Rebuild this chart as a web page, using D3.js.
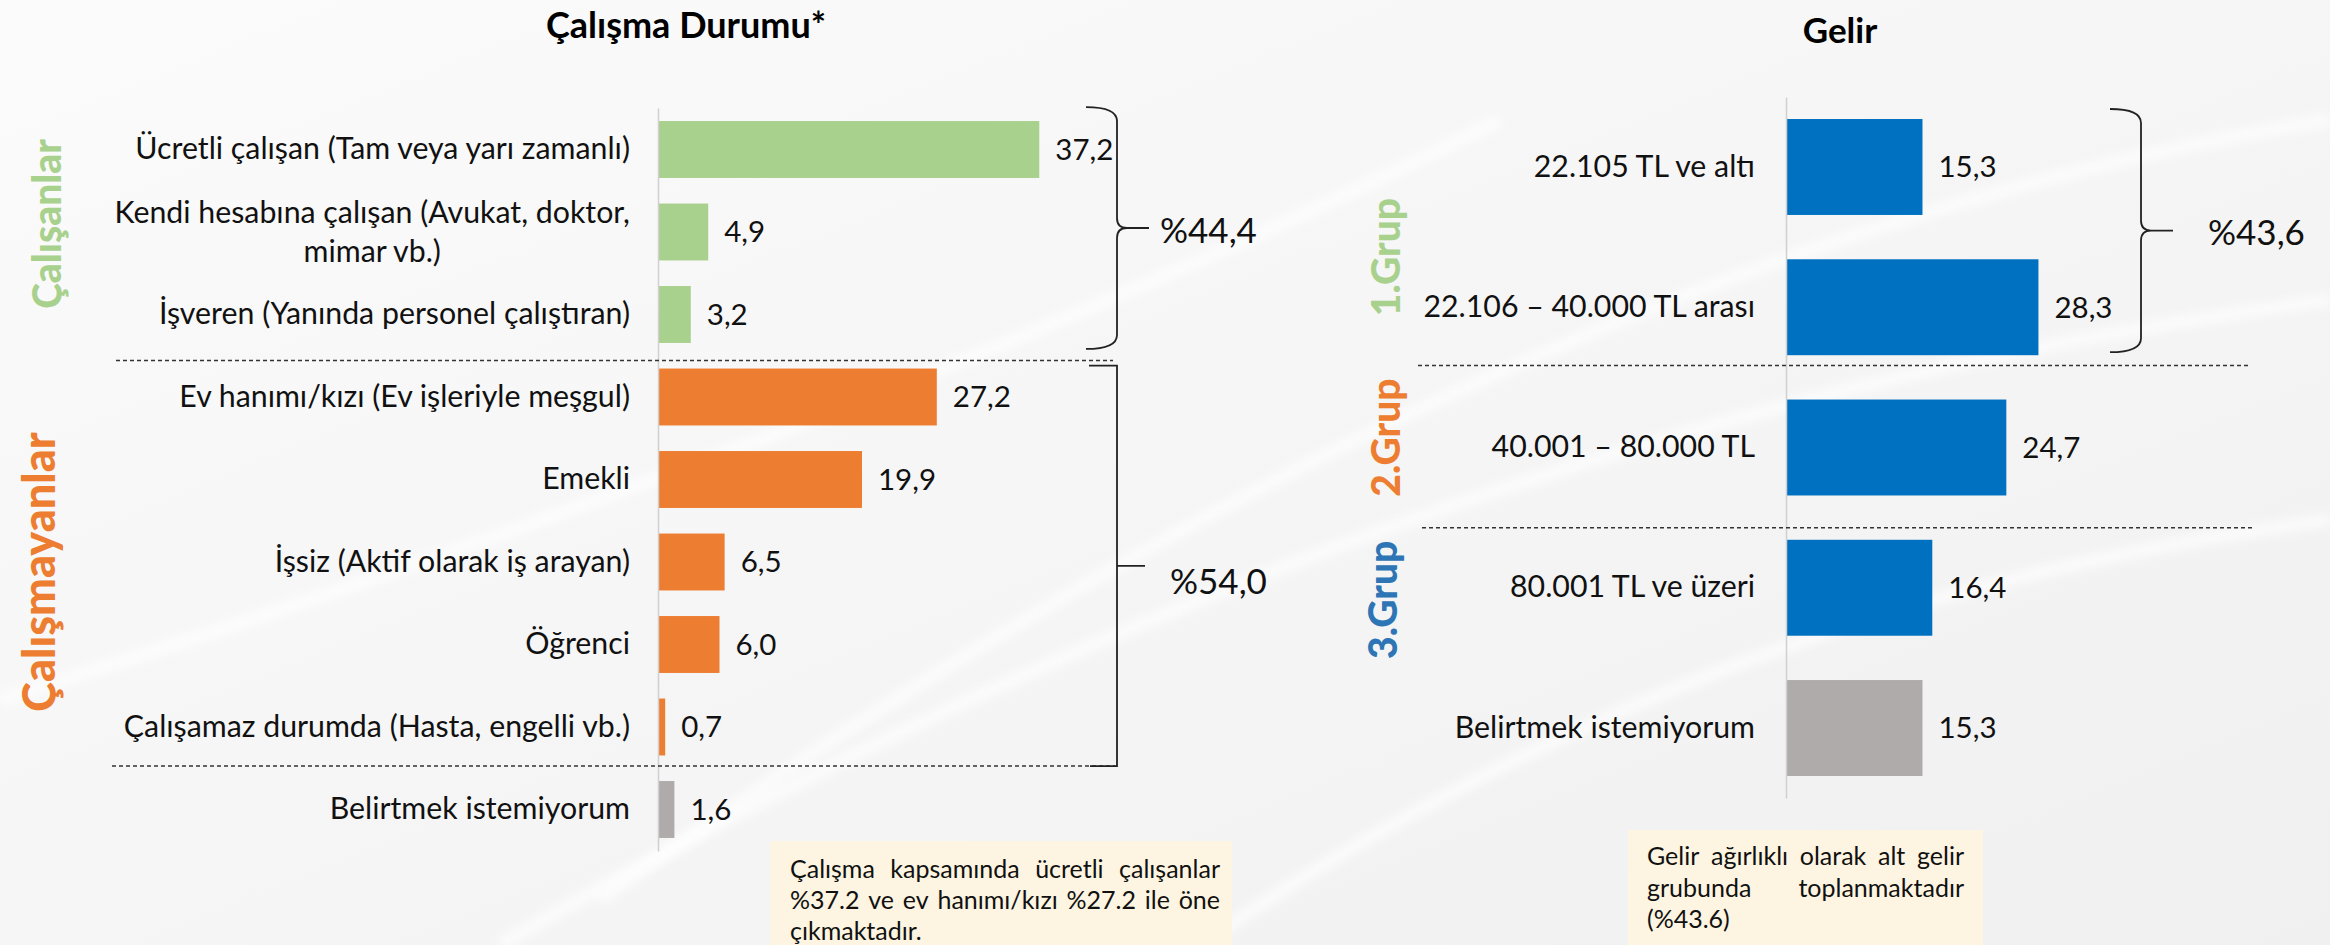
<!DOCTYPE html>
<html>
<head>
<meta charset="utf-8">
<script src="https://cdn.jsdelivr.net/npm/d3@7"></script>
<style>
  body { margin: 0; background: #f4f4f4; }
  svg { display: block; font-family: Lato, "Open Sans", sans-serif; }
  .val { font-size: 29.5px; fill: #111; }
  .pct { font-size: 35px; fill: #111; }
  .title { font-size: 36px; font-weight: bold; fill: #000; text-anchor: middle; }
  .side { font-weight: 900; text-anchor: middle; dominant-baseline: central; }
  .note { font-size: 25px; fill: #111; }
</style>
</head>
<body>
<div id="chart"></div>
<script>

// Çalışma Durumu (left chart)
var workLabels = [
  "Ücretli çalışan (Tam veya yarı zamanlı)",
  "Kendi hesabına çalışan (Avukat, doktor,\nmimar vb.)",
  "İşveren (Yanında personel çalıştıran)",
  "Ev hanımı/kızı (Ev işleriyle meşgul)",
  "Emekli",
  "İşsiz (Aktif olarak iş arayan)",
  "Öğrenci",
  "Çalışamaz durumda (Hasta, engelli vb.)",
  "Belirtmek istemiyorum"
];
var workValues = [37.2, 4.9, 3.2, 27.2, 19.9, 6.5, 6.0, 0.7, 1.6];
var workGroups = ["calisan", "calisan", "calisan", "calismayan", "calismayan", "calismayan", "calismayan", "calismayan", "none"];
var workTotals = ["%44,4", "%54,0"];
var workNote = ["Çalışma kapsamında ücretli çalışanlar", "%37.2 ve ev hanımı/kızı %27.2 ile öne", "çıkmaktadır."];

// Gelir (right chart)
var incomeLabels = ["22.105 TL ve altı", "22.106 – 40.000 TL arası", "40.001 – 80.000 TL", "80.001 TL ve üzeri", "Belirtmek istemiyorum"];
var incomeValues = [15.3, 28.3, 24.7, 16.4, 15.3];
var incomeGroups = ["g1", "g1", "g2", "g3", "none"];
var incomeTotals = ["%43,6"];
var incomeNote = ["Gelir ağırlıklı olarak alt gelir", "grubunda toplanmaktadır", "(%43.6)"];

var barColor = {calisan: "#a9d18e", calismayan: "#ed7d31", g1: "#0070c0", g2: "#0070c0", g3: "#0070c0", none: "#afabab"};

var W = 2330, H = 945;
var fmt = d3.formatLocale({decimal: ",", thousands: ".", grouping: [3], currency: ["", ""]}).format(".1f");

var svg = d3.select("#chart").append("svg")
    .attr("width", W)
    .attr("height", H);

// background
var defs = svg.append("defs");
var grad = defs.append("linearGradient")
    .attr("id", "bg").attr("x1", 0).attr("y1", 0).attr("x2", 1).attr("y2", 1);
grad.append("stop").attr("offset", "0%").attr("stop-color", "#fbfbfb");
grad.append("stop").attr("offset", "100%").attr("stop-color", "#f0f0f0");
defs.append("filter").attr("id", "soft")
  .append("feGaussianBlur").attr("stdDeviation", 4);
svg.append("rect").attr("width", W).attr("height", H).attr("fill", "url(#bg)");

// faint swooshes
[[600, 900, 1500, 250, 2330, 120], [500, 945, 1400, 420, 2330, 300], [1200, 945, 1700, 600, 2330, 520], [0, 700, 900, 420, 1500, 120]]
  .forEach(function(c) {
    svg.append("path")
        .attr("d", "M" + c[0] + "," + c[1] + " Q" + c[2] + "," + c[3] + " " + c[4] + "," + c[5])
        .attr("fill", "none")
        .attr("stroke", "#ffffff")
        .attr("stroke-width", 14)
        .attr("filter", "url(#soft)")
        .attr("opacity", 0.6);
  });

// set the ranges
var workX = d3.scaleLinear().domain([0, 40]).range([658, 1068]);
var workY = d3.scaleBand().domain(workLabels).range([108, 851]).paddingInner(0.31).paddingOuter(0.158);
var incomeX = d3.scaleLinear().domain([0, 30]).range([1786, 2053.6]);
var incomeY = d3.scaleBand().domain(incomeLabels).range([97, 798]).paddingInner(0.316).paddingOuter(0.157);

function drawChart(labels, values, groups, x, y, pad) {
  var g = svg.append("g");

  // bars
  g.selectAll(".bar")
    .data(labels)
    .enter().append("rect")
      .attr("x", x(0))
      .attr("y", function(d) { return y(d); })
      .attr("width", function(d, i) { return x(values[i]) - x(0); })
      .attr("height", y.bandwidth())
      .attr("fill", function(d, i) { return barColor[groups[i]]; });

  // category axis
  var ax = g.append("g")
      .attr("transform", "translate(" + x(0) + ",0)")
      .call(d3.axisLeft(y).tickSize(0).tickSizeOuter(0).tickPadding(pad));
  ax.attr("font-family", null).attr("font-size", 30.3);
  ax.select(".domain").attr("stroke", "#d0d0d0").attr("stroke-width", 1.5);
  ax.selectAll(".tick text")
      .attr("fill", "#111")
      .each(function(d) {
        var parts = d.split("\n");
        if (parts.length < 2) return;
        var t = d3.select(this).text(parts[0]);
        var w = this.getComputedTextLength();
        t.text(null).attr("text-anchor", "middle").attr("dy", null);
        parts.forEach(function(p, k) {
          t.append("tspan")
              .attr("x", -pad - w / 2)
              .attr("dy", k === 0 ? "-0.3em" : "1.3em")
              .text(p);
        });
      });

  // value labels
  g.selectAll(".val")
    .data(labels)
    .enter().append("text")
      .attr("class", "val")
      .attr("x", function(d, i) { return x(values[i]) + 16; })
      .attr("y", function(d) { return y(d) + y.bandwidth() / 2; })
      .attr("dy", "0.35em")
      .text(function(d, i) { return fmt(values[i]); });
}

drawChart(workLabels, workValues, workGroups, workX, workY, 28);
drawChart(incomeLabels, incomeValues, incomeGroups, incomeX, incomeY, 31);

// titles
svg.append("text").attr("class", "title").attr("x", 686).attr("y", 38).text("Çalışma Durumu*");
svg.append("text").attr("class", "title").attr("x", 1840).attr("y", 43).style("font-size", "35px").text("Gelir");

// dashed separators
function dashed(x0, x1, y) {
  svg.append("line")
      .attr("x1", x0).attr("x2", x1).attr("y1", y).attr("y2", y)
      .attr("stroke", "#333")
      .attr("stroke-width", 1.5)
      .attr("stroke-dasharray", "4,3");
}
var bw = workY.bandwidth(), ibw = incomeY.bandwidth();
dashed(116, 1113, workY(workLabels[3]) - 8);
dashed(112, 1115, workY(workLabels[8]) - 15);
dashed(1418, 2249, incomeY(incomeLabels[2]) - 34);
dashed(1422, 2253, incomeY(incomeLabels[3]) - 12);

// curly brace
function brace(x0, x1, y0, y1, xt) {
  var ym = (y0 + y1) / 2;
  svg.append("path")
      .attr("d", "M" + x0 + "," + y0 + " Q" + x1 + "," + y0 + " " + x1 + "," + (y0 + 14) +
                 " L" + x1 + "," + (ym - 10) + " Q" + x1 + "," + ym + " " + (x1 + 10) + "," + ym +
                 " Q" + x1 + "," + ym + " " + x1 + "," + (ym + 10) +
                 " L" + x1 + "," + (y1 - 14) + " Q" + x1 + "," + y1 + " " + x0 + "," + y1 +
                 " M" + (x1 + 8) + "," + ym + " L" + xt + "," + ym)
      .attr("fill", "none")
      .attr("stroke", "#222")
      .attr("stroke-width", 1.8);
  return ym;
}

var m1 = brace(1086, 1117, workY(workLabels[0]) - 14, workY(workLabels[2]) + bw + 6, 1149);
svg.append("text").attr("class", "pct").attr("x", 1160).attr("y", m1 + 3).attr("dy", "0.35em").text(workTotals[0]);

// square bracket for non-working
var sb0 = workY(workLabels[3]) - 3, sb1 = workY(workLabels[8]) - 15, sbm = (sb0 + sb1) / 2;
svg.append("path")
    .attr("d", "M1089," + sb0 + " H1117 V" + sb1 + " H1090 M1117," + sbm + " H1145")
    .attr("fill", "none")
    .attr("stroke", "#222")
    .attr("stroke-width", 1.8);
svg.append("text").attr("class", "pct").attr("x", 1170).attr("y", sbm + 16).attr("dy", "0.35em").text(workTotals[1]);

var m2 = brace(2110, 2141, incomeY(incomeLabels[0]) - 10, incomeY(incomeLabels[1]) + ibw - 3, 2173);
svg.append("text").attr("class", "pct").attr("x", 2208).attr("y", m2 + 2).attr("dy", "0.35em").text(incomeTotals[0]);

// rotated group labels
function side(text, x, y, size, color) {
  svg.append("text")
      .attr("class", "side")
      .attr("transform", "translate(" + x + "," + y + ") rotate(-90)")
      .style("font-size", size + "px")
      .attr("fill", color)
      .text(text);
}
side("Çalışanlar", 46, (workY(workLabels[0]) + workY(workLabels[2]) + bw) / 2 - 8, 39, "#a9d18e");
side("Çalışmayanlar", 38, (workY(workLabels[3]) + workY(workLabels[7]) + bw) / 2 + 10, 45, "#ed7d31");
side("1.Grup", 1385, (incomeY(incomeLabels[0]) + incomeY(incomeLabels[1]) + ibw) / 2 + 20, 39, "#a9d18e");
side("2.Grup", 1385, incomeY(incomeLabels[2]) + ibw / 2 - 10, 39, "#ed7d31");
side("3.Grup", 1382, incomeY(incomeLabels[3]) + ibw / 2 + 12, 39, "#2e75b6");

// note boxes with justified text
function note(lines, bx0, bx1, by, tx0, tx1, base, lh) {
  svg.append("rect")
      .attr("x", bx0).attr("y", by)
      .attr("width", bx1 - bx0).attr("height", H - by + 5)
      .attr("fill", "#fdf5e1");
  lines.forEach(function(line, li) {
    var words = line.split(" ");
    var ts = words.map(function(w) {
      return svg.append("text").attr("class", "note").attr("y", base + li * lh).text(w);
    });
    var widths = ts.map(function(t) { return t.node().getComputedTextLength(); });
    var gap = li < lines.length - 1 ? (tx1 - tx0 - d3.sum(widths)) / (words.length - 1) : 6;
    var cx = tx0;
    ts.forEach(function(t, i) { t.attr("x", cx); cx += widths[i] + gap; });
  });
}
note(workNote, 770, 1232, 841, 790, 1220, 878, 31);
note(incomeNote, 1628, 1983, 830, 1647, 1964, 865, 31.5);

</script>
</body>
</html>
